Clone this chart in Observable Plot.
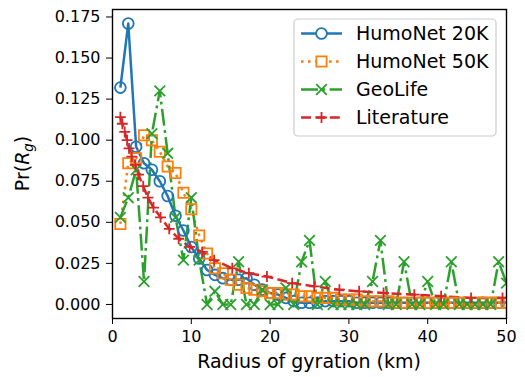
<!DOCTYPE html>
<html><head><meta charset="utf-8">
<script src="https://cdn.jsdelivr.net/npm/d3@7"></script>
<script src="https://cdn.jsdelivr.net/npm/@observablehq/plot@0.6"></script>
<style>
html,body{margin:0;padding:0;background:#fff}
#chart svg{display:block}
</style>
</head><body><div id="chart"></div>
<script>
// ---- data ----
const radius = [1,2,3,4,5,6,7,8,9,10,11,12,13,14,15,16,17,18,19,20,21,22,23,24,25,26,27,28,29,30,31,32,33,34,35,36,37,38,39,40,41,42,43,44,45,46,47,48,49,50];
const humo20 = [0.132,0.171,0.096,0.086,0.082,0.075,0.066,0.054,0.045,0.035,0.028,0.021,0.018,0.016,0.015,0.015,0.016,0.012,0.009,0.007,0.006,0.004,0.002,0.001,0.001,0.001,0.002,0.002,0.002,0.002,0.001,0.001,0.001,0.001,0.001,0.001,0.001,0.001,0.001,0.001,0.001,0.001,0.001,0.001,0.001,0.001,0.001,0.001,0.001,0.001];
const humo50 = [0.049,0.086,0.089,0.103,0.100,0.093,0.084,0.080,0.068,0.058,0.042,0.031,0.022,0.019,0.015,0.012,0.010,0.009,0.008,0.007,0.007,0.006,0.006,0.005,0.005,0.004,0.004,0.004,0.003,0.003,0.003,0.002,0.002,0.002,0.002,0.001,0.001,0.001,0.001,0.001,0.001,0.001,0.001,0.001,0.001,0.001,0.001,0.001,0.001,0.001];
const geolife = [0.053,0.065,0.082,0.014,0.104,0.130,0.092,0.053,0.027,0.065,0.027,0.000,0.008,0.000,0.000,0.026,0.000,0.000,0.009,0.000,0.000,0.010,0.000,0.026,0.039,0.000,0.014,0.000,0.000,0.000,0.000,0.000,0.014,0.039,0.000,0.000,0.026,0.000,0.000,0.014,0.000,0.000,0.026,0.000,0.000,0.000,0.000,0.000,0.026,0.013];
const litRadius = [1.0,1.25,1.55,1.85,2.1,2.45,2.9,3.3,3.9,4.5,5.2,6.1,7.2,8.4,9.8,11.4,12.9,15.2,17.3,19.6,22.8,25.6,28.8,31.3,34.4,38.3,41.7,45.5,49.5];
const literature = [0.114,0.110,0.105,0.100,0.095,0.090,0.085,0.079,0.072,0.065,0.059,0.053,0.046,0.040,0.035,0.032,0.027,0.022,0.019,0.017,0.013,0.011,0.009,0.008,0.007,0.006,0.005,0.004,0.004];

const seriesNames = ["HumoNet 20K","HumoNet 50K","GeoLife","Literature"];
const seriesColors = ["#1f77b4","#ff7f0e","#2ca02c","#d62728"];
const xTicks = [0,10,20,30,40,50];
const yTicks = [0,0.025,0.05,0.075,0.1,0.125,0.15,0.175];

// ---- styles ----
const FONT = "DejaVu Sans";
const FS_TICK = 16;
const FS = 19;
const LW = 2.5;
const styles = [
  {dash: null,              symbol: "circle", r: 5.4, mw: 1.8},
  {dash: "2.6,4.4",         symbol: "square", r: 5.8, mw: 1.8},
  {dash: "17,4.4,2.8,4.4",  symbol: "times",  r: 4.9, mw: 1.8},
  {dash: "10,4.4",          symbol: "plus",   r: 3.6, mw: 1.8}
];

const rows = (xs, ys) => xs.map((x, i) => ({x, y: ys[i]}));
const series = [rows(radius, humo20), rows(radius, humo50), rows(radius, geolife), rows(litRadius, literature)];

const W = 525, H = 377;
const mL = 112, mR = 19, mT = 9, mB = 59;

const marks = [];
series.forEach((d, i) => {
  const s = styles[i];
  marks.push(Plot.line(d, {x: "x", y: "y", stroke: seriesColors[i], strokeWidth: LW,
    strokeDasharray: s.dash, strokeLinecap: "butt", strokeLinejoin: "round", clip: true}));
});
series.forEach((d, i) => {
  const s = styles[i];
  marks.push(Plot.dot(d, {x: "x", y: "y", symbol: s.symbol, r: s.r, stroke: seriesColors[i],
    fill: "none", strokeWidth: s.mw, clip: true}));
});
marks.push(Plot.frame({stroke: "black", strokeWidth: 1.4}));

const chart = Plot.plot({
  width: W, height: H,
  marginLeft: mL, marginRight: mR, marginTop: mT, marginBottom: mB,
  style: {fontFamily: FONT, fontSize: FS_TICK + "px", color: "black", background: "white", overflow: "visible"},
  x: {domain: [0, 50], ticks: xTicks, tickSize: 6, tickPadding: 6, label: null, tickFormat: d3.format("d")},
  y: {domain: [-0.00855, 0.17955], ticks: yTicks, tickSize: 6, tickPadding: 6, label: null, tickFormat: d3.format(".3f")},
  marks
});
document.getElementById("chart").appendChild(chart);

// ---- axis labels and legend (drawn into the same SVG) ----
const svg = d3.select(chart);
const cx = (mL + (W - mR)) / 2, cy = (mT + (H - mB)) / 2;

svg.append("text").attr("x", cx).attr("y", 368).attr("text-anchor", "middle")
  .attr("font-family", FONT).attr("font-size", FS).attr("fill", "black")
  .text("Radius of gyration (km)");

const yl = svg.append("text").attr("transform", `translate(29,${cy}) rotate(-90)`)
  .attr("text-anchor", "middle").attr("font-family", FONT).attr("font-size", FS).attr("fill", "black");
yl.append("tspan").text("Pr(");
yl.append("tspan").attr("font-style", "italic").text("R");
yl.append("tspan").attr("font-style", "italic").attr("font-size", FS * 0.7).attr("dy", 4).text("g");
yl.append("tspan").attr("dy", -4).text(")");

// legend
const lg = svg.append("g");
lg.append("rect").attr("x", 294).attr("y", 19).attr("width", 202).attr("height", 117)
  .attr("rx", 4).attr("fill", "white").attr("fill-opacity", 0.8).attr("stroke", "#cccccc").attr("stroke-width", 1.2);
const rowY = [33.5, 61.5, 89.5, 117.5];
const symMap = {circle: d3.symbolCircle, square: d3.symbolSquare, times: d3.symbolTimes, plus: d3.symbolPlus};
seriesNames.forEach((name, i) => {
  const s = styles[i];
  const y = rowY[i];
  lg.append("line").attr("x1", 301).attr("x2", 342).attr("y1", y).attr("y2", y)
    .attr("stroke", seriesColors[i]).attr("stroke-width", LW)
    .attr("stroke-dasharray", s.dash).attr("stroke-linecap", "butt");
  lg.append("path").attr("transform", `translate(321.5,${y})`)
    .attr("d", d3.symbol(symMap[s.symbol], Math.PI * s.r * s.r)())
    .attr("fill", i < 2 ? "white" : "none").attr("stroke", seriesColors[i]).attr("stroke-width", s.mw);
  lg.append("text").attr("x", 356).attr("y", y).attr("dy", "0.35em").attr("text-anchor", "start")
    .attr("font-family", FONT).attr("font-size", FS).attr("fill", "black").text(name);
});
</script>
</body></html>
